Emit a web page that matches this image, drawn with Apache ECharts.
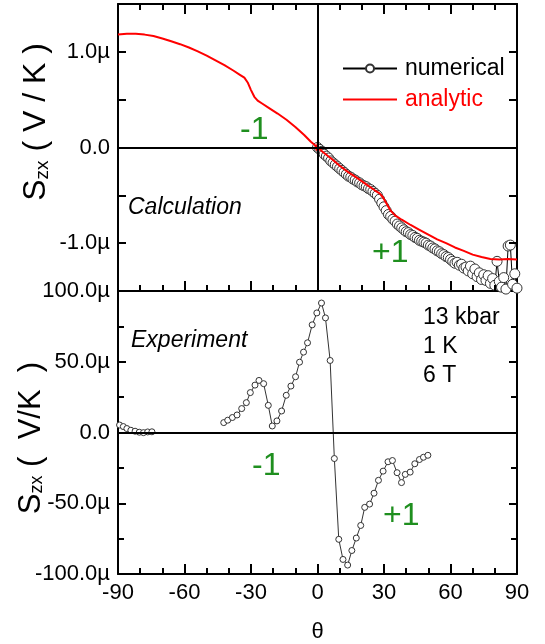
<!DOCTYPE html>
<html>
<head>
<meta charset="utf-8">
<script src="https://cdn.jsdelivr.net/npm/echarts@6/dist/echarts.min.js"></script>
<style>
  html, body { margin: 0; padding: 0; background: #fff; }
  #chart { width: 545px; height: 644px; }
</style>
</head>
<body>
<div id="chart"></div>
<script>
// Angle axis ticks (degrees)
var thetaTicks = [-90, -60, -30, 0, 30, 60, 90];

// Calculation: analytic curve, S_zx in µV/K
var analyticTheta = [-90, -86, -82, -78, -74, -70, -66, -62, -58, -54, -50, -46, -42, -38, -35, -33, -31.5, -30, -28.5, -27, -25, -22, -18, -14, -10, -6, -3, -1, -0.6, -0.3, 0, 0.4, 0.8, 2, 4, 7, 10, 14, 18, 22, 26, 28, 29.5, 31, 33, 35, 38, 42, 46, 50, 54, 58, 62, 66, 70, 74, 78, 82, 86, 90];
var analyticS = [1.18, 1.19, 1.19, 1.18, 1.165, 1.14, 1.11, 1.08, 1.045, 1.005, 0.96, 0.91, 0.86, 0.805, 0.76, 0.73, 0.68, 0.60, 0.53, 0.49, 0.46, 0.415, 0.355, 0.29, 0.215, 0.13, 0.06, 0.02, 0.01, -0.03, 0.04, -0.04, 0.0, -0.04, -0.075, -0.13, -0.19, -0.26, -0.32, -0.385, -0.45, -0.48, -0.52, -0.58, -0.66, -0.71, -0.755, -0.81, -0.86, -0.91, -0.96, -1.0, -1.045, -1.08, -1.12, -1.145, -1.165, -1.17, -1.165, -1.17];

// Calculation: numerical points, S_zx in µV/K
var numericalTheta = [0, 1, 2, 3, 4, 5, 6, 7, 8, 9, 10, 11, 12, 13, 14, 15, 16, 17, 18, 19, 20, 21, 22, 23, 24, 25, 26, 27, 28, 29, 30, 31, 32, 33, 34, 35, 36, 37, 38, 39, 40, 41, 42, 43, 44, 45, 46, 47, 48, 49, 50, 51, 52, 53, 54, 55, 56, 57, 58, 59, 60, 61, 62, 63, 64, 65, 66, 67, 68, 69, 70, 71, 72, 73, 74, 75, 76, 77, 78, 79, 80, 81, 82, 83, 84, 85, 86, 87, 88, 89, 90];
var numericalS = [0.00, -0.02, -0.04, -0.07, -0.09, -0.11, -0.14, -0.16, -0.18, -0.20, -0.22, -0.24, -0.26, -0.28, -0.30, -0.31, -0.33, -0.34, -0.36, -0.37, -0.39, -0.40, -0.41, -0.43, -0.44, -0.46, -0.48, -0.50, -0.54, -0.58, -0.62, -0.66, -0.70, -0.72, -0.75, -0.77, -0.80, -0.82, -0.84, -0.86, -0.88, -0.89, -0.91, -0.92, -0.94, -0.95, -0.97, -0.98, -0.99, -1.00, -1.02, -1.03, -1.05, -1.06, -1.08, -1.09, -1.11, -1.12, -1.14, -1.15, -1.17, -1.19, -1.21, -1.20, -1.23, -1.22, -1.26, -1.25, -1.29, -1.24, -1.32, -1.27, -1.35, -1.31, -1.38, -1.33, -1.39, -1.34, -1.42, -1.37, -1.44, -1.19, -1.40, -1.46, -1.36, -1.48, -1.03, -1.02, -1.43, -1.32, -1.47];

// Experiment (13 kbar, 1 K, 6 T), S_zx in µV/K
var expLowTheta = [-89.3, -87.6, -86.0, -84.2, -82.3, -80.4, -78.5, -76.6, -74.7];
var expLowS = [5.3, 4.2, 2.8, 1.6, 0.9, 0.2, -0.1, 0.4, 0.5];
var expMainTheta = [-42.3, -40.5, -38.4, -36.3, -34.2, -32.1, -30.3, -28.2, -26.4, -24.3, -22.2, -20.4, -18.3, -16.2, -14.1, -12.0, -9.9, -8.1, -6.3, -4.5, -2.4, -0.3, 1.8, 3.6, 5.7, 7.6, 9.6, 11.5, 13.6, 15.5, 17.5, 19.5, 21.3, 23.5, 25.5, 27.5, 29.6, 31.8, 33.8, 35.9, 37.9, 39.6, 41.8, 43.9, 46.0, 47.8, 49.8];
var expMainS = [7.0, 8.7, 10.6, 12.4, 16.9, 21.1, 28.2, 33.5, 36.8, 34.5, 19.2, 4.6, 8.2, 15.2, 26.3, 32.8, 39.4, 49.7, 56.8, 63.4, 76.1, 84.5, 91.5, 81.0, 50.9, -18.4, -75.5, -89.7, -93.7, -83.4, -74.6, -65.7, -52.9, -50.6, -42.9, -33.8, -27.3, -20.7, -19.8, -28.4, -35.4, -29.6, -28.0, -22.1, -19.1, -17.5, -16.1];

// Frame tick positions
var thetaTickValues = [-80, -70, -60, -50, -40, -30, -20, -10, 0, 10, 20, 30, 40, 50, 60, 70, 80];
var calcTickValues = [-1.0, -0.5, 0.5, 1.0];
var expTickValues = [-75, -50, -25, 0, 25, 50, 75];

function zip(xs, ys) { return xs.map(function (x, i) { return [x, ys[i]]; }); }

var FONT = "'Liberation Sans', Arial, sans-serif";
var GREEN = '#1f8f1f';

var thetaRange = [-90, 90, 30];
var calcRange = [-1.5, 1.5, 0.5];
var expRange = [-100, 100, 50];

// plot frame sizes (px), shared by the grids and the tick lengths
var PLOT_W = 399, TOP_H = 287, BOT_H = 284;

function microLabel(v) {
  if (v === 0) return '0.0';
  return v.toFixed(1) + 'µ';
}

var frameLine = { show: true, onZero: false, lineStyle: { color: '#000', width: 2 } };

// frame axis: border line (and optional labels); inward ticks are drawn as markLine segments
function frameAxis(grid, pos, range, showLabel, fmt) {
  return {
    type: 'value', gridIndex: grid, position: pos,
    min: range[0], max: range[1], interval: range[2],
    axisLine: frameLine,
    axisTick: { show: false }, minorTick: { show: false },
    splitLine: { show: false },
    axisLabel: showLabel ? { show: true, fontFamily: FONT, fontSize: 22, color: '#000', margin: 8, formatter: fmt } : { show: false }
  };
}

var xAxes = [
  frameAxis(0, 'bottom', thetaRange, false),
  frameAxis(0, 'top', thetaRange, false),
  frameAxis(1, 'bottom', thetaRange, true, function (v) { return thetaTicks.indexOf(v) >= 0 ? String(v) : ''; }),
  frameAxis(1, 'top', thetaRange, false)
];
xAxes[2].name = 'θ';
xAxes[2].nameLocation = 'middle';
xAxes[2].nameGap = 47;
xAxes[2].nameTextStyle = { fontFamily: FONT, fontSize: 22, color: '#000' };

var yAxes = [
  frameAxis(0, 'left', calcRange, true, function (v) {
    return (v === 0 || Math.abs(v) === 1) ? microLabel(v) : '';
  }),
  frameAxis(0, 'right', calcRange, false),
  frameAxis(1, 'left', expRange, true, microLabel),
  frameAxis(1, 'right', expRange, false)
];

var zeroLine = { color: '#000', width: 2, type: 'solid' };
var tickStyle = { color: '#000', width: 2, type: 'solid' };

// Inward tick segments for one panel, expressed in that panel's data units
function frameTicks(yRange, plotH, yTickValues, yMajorEvery, withTop) {
  var xPerPx = (thetaRange[1] - thetaRange[0]) / PLOT_W;
  var yPerPx = (yRange[1] - yRange[0]) / plotH;
  var out = [];
  thetaTickValues.forEach(function (v) {
    var len = (v % 30 === 0) ? 10 : 6;
    out.push([{ coord: [v, yRange[0]], lineStyle: tickStyle }, { coord: [v, yRange[0] + len * yPerPx] }]);
    if (withTop) out.push([{ coord: [v, yRange[1]], lineStyle: tickStyle }, { coord: [v, yRange[1] - len * yPerPx] }]);
  });
  yTickValues.forEach(function (v) {
    var r = v / yMajorEvery;
    var len = Math.abs(r - Math.round(r)) < 1e-6 ? 8 : 6;
    out.push([{ coord: [thetaRange[0], v], lineStyle: tickStyle }, { coord: [thetaRange[0] + len * xPerPx, v] }]);
    out.push([{ coord: [thetaRange[1], v], lineStyle: tickStyle }, { coord: [thetaRange[1] - len * xPerPx, v] }]);
  });
  return out;
}

function titleRich(big, small, drop) {
  return {
    s: { fontFamily: FONT, fontSize: big, fill: '#000' },
    sub: { fontFamily: FONT, fontSize: small, fill: '#000', padding: [drop, 0, 0, 0] }
  };
}

var option = {
  animation: false,
  backgroundColor: '#fff',
  grid: [
    { left: 118, width: PLOT_W, top: 4, height: TOP_H },
    { left: 118, width: PLOT_W, top: 4 + TOP_H, height: BOT_H }
  ],
  xAxis: xAxes,
  yAxis: yAxes,
  legend: {
    orient: 'vertical', left: 337, top: 52, itemWidth: 54, itemHeight: 10, itemGap: 8,
    textStyle: { fontFamily: FONT, fontSize: 23, lineHeight: 23, padding: [0, 0, 0, 3] },
    data: [
      { name: 'numerical', textStyle: { color: '#000' } },
      { name: 'analytic', textStyle: { color: '#ff0000' }, itemStyle: { opacity: 0 } }
    ]
  },
  series: [
    {
      name: 'numerical', type: 'line', xAxisIndex: 0, yAxisIndex: 0,
      data: zip(numericalTheta, numericalS),
      symbol: 'circle', symbolSize: 10, showAllSymbol: true,
      itemStyle: { color: '#fff', borderColor: '#333', borderWidth: 1 },
      lineStyle: { color: '#000', width: 1 },
      z: 3,
      markLine: {
        silent: true, symbol: ['none', 'none'], label: { show: false },
        lineStyle: zeroLine,
        data: [{ yAxis: 0 }, { xAxis: 0 }].concat(frameTicks(calcRange, TOP_H, calcTickValues, 0.5, true))
      }
    },
    {
      name: 'analytic', type: 'line', xAxisIndex: 0, yAxisIndex: 0,
      data: zip(analyticTheta, analyticS),
      symbol: 'none',
      itemStyle: { color: '#ff0000' },
      lineStyle: { color: '#ff0000', width: 2 },
      z: 4
    },
    {
      name: 'experiment', type: 'line', xAxisIndex: 2, yAxisIndex: 2,
      data: zip(expLowTheta, expLowS),
      symbol: 'circle', symbolSize: 6, showAllSymbol: true,
      itemStyle: { color: '#fff', borderColor: '#333', borderWidth: 1 },
      lineStyle: { color: '#333', width: 1 },
      z: 3,
      markLine: {
        silent: true, symbol: ['none', 'none'], label: { show: false },
        lineStyle: zeroLine,
        data: [{ yAxis: 0 }].concat(frameTicks(expRange, BOT_H, expTickValues, 50, false))
      }
    },
    {
      name: 'experiment', type: 'line', xAxisIndex: 2, yAxisIndex: 2,
      data: zip(expMainTheta, expMainS),
      symbol: 'circle', symbolSize: 6, showAllSymbol: true,
      itemStyle: { color: '#fff', borderColor: '#333', borderWidth: 1 },
      lineStyle: { color: '#333', width: 1 },
      z: 3
    }
  ],
  graphic: [
    { type: 'text', x: 36, y: 122, rotation: Math.PI / 2,
      style: { text: '{s|S}{sub|zx}{s| ( V / K )}', align: 'center', verticalAlign: 'middle', rich: titleRich(32, 19, 14) } },
    { type: 'text', x: 31, y: 438, rotation: Math.PI / 2,
      style: { text: '{s|S}{sub|zx}{s| (  V/K  )}', align: 'center', verticalAlign: 'middle', rich: titleRich(31, 18, 13) } },
    { type: 'text', left: 240, top: 114, style: { text: '-1', fontFamily: FONT, fontSize: 32, fill: GREEN } },
    { type: 'text', left: 372, top: 237, style: { text: '+1', fontFamily: FONT, fontSize: 32, fill: GREEN } },
    { type: 'text', left: 128, top: 196, style: { text: 'Calculation', fontFamily: FONT, fontSize: 23, fontStyle: 'italic', fill: '#000' } },
    { type: 'text', left: 131, top: 329, style: { text: 'Experiment', fontFamily: FONT, fontSize: 23, fontStyle: 'italic', fill: '#000' } },
    { type: 'text', left: 423, top: 306, style: { text: '13 kbar', fontFamily: FONT, fontSize: 23, fill: '#000' } },
    { type: 'text', left: 423, top: 335, style: { text: '1 K', fontFamily: FONT, fontSize: 23, fill: '#000' } },
    { type: 'text', left: 423, top: 364, style: { text: '6 T', fontFamily: FONT, fontSize: 23, fill: '#000' } },
    { type: 'text', left: 252, top: 450, style: { text: '-1', fontFamily: FONT, fontSize: 32, fill: GREEN } },
    { type: 'text', left: 383, top: 500, style: { text: '+1', fontFamily: FONT, fontSize: 32, fill: GREEN } }
  ]
};

var chart = echarts.init(document.getElementById('chart'), null, { renderer: 'canvas' });
chart.setOption(option);
</script>
</body>
</html>
